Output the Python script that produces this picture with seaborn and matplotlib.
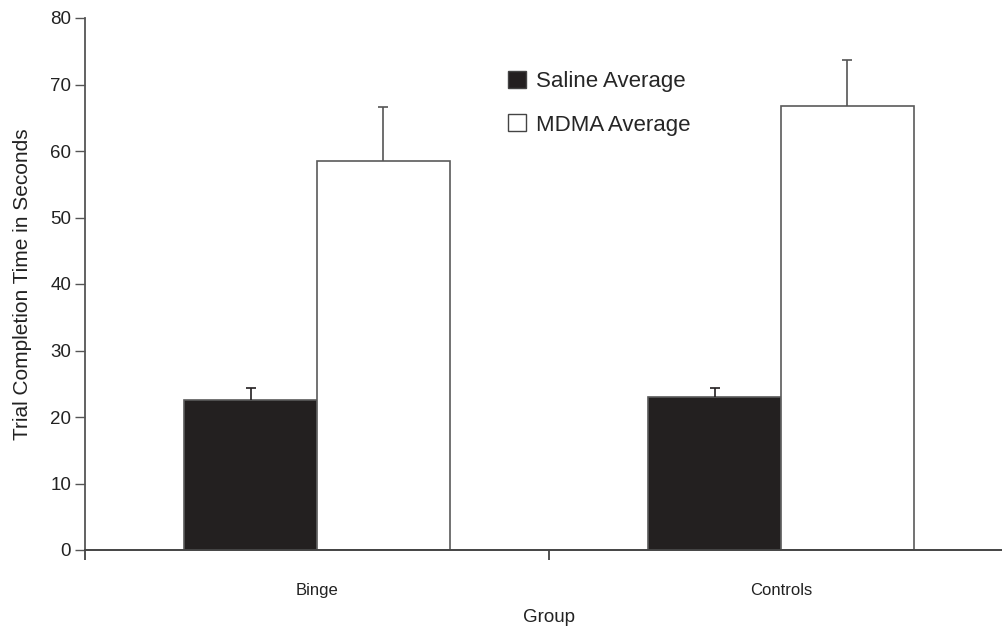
import matplotlib
matplotlib.use("Agg")
import matplotlib.pyplot as plt
import seaborn as sns
import pandas as pd
from matplotlib.patches import Patch

groups = ["Binge", "Controls"]
treatments = ["Saline Average", "MDMA Average"]
saline_means = [22.5, 23.0]
saline_err = [1.9, 1.3]
mdma_means = [58.5, 66.8]
mdma_err = [8.1, 6.9]
yticks = [0, 10, 20, 30, 40, 50, 60, 70, 80]

df = pd.DataFrame({
    "Group": groups * 2,
    "Treatment": [treatments[0]] * 2 + [treatments[1]] * 2,
    "Value": saline_means + mdma_means,
    "Err": saline_err + mdma_err,
})

sns.set_style("white")
plt.rcParams["font.family"] = ["Liberation Sans", "DejaVu Sans"]

W, H = 1003, 629
fig = plt.figure(figsize=(W / 100, H / 100), dpi=100)
x0, x1 = 85, 1013
y0, y1 = 550, 18
ax = fig.add_axes([x0 / W, (H - y0) / H, (x1 - x0) / W, (y0 - y1) / H])

palette = {treatments[0]: "#231f20", treatments[1]: "#ffffff"}
sns.barplot(data=df, x="Group", y="Value", hue="Treatment", palette=palette,
            order=groups, hue_order=treatments, width=0.573, gap=0,
            edgecolor="#5a5a5a", linewidth=1.2, errorbar=None, ax=ax,
            legend=False)

# one-sided (upper) error bars placed on bar centers
for patch in list(ax.patches):
    h = patch.get_height()
    cx = patch.get_x() + patch.get_width() / 2
    row = df[(df["Value"] - h).abs() < 1e-9].iloc[0]
    col = "#231f20" if row["Treatment"] == treatments[0] else "#555555"
    _, caps, _ = ax.errorbar([cx], [h], yerr=[[0], [row["Err"]]], fmt="none",
                             ecolor=col, elinewidth=1.2, capsize=3.5,
                             capthick=1.2, zorder=3)
    caps[0].set_visible(False)

ax.set_xlim(-0.5, 1.5)
ax.set_ylim(0, 80)
ax.set_yticks(yticks)
ax.set_yticklabels([str(v) for v in yticks], fontsize=13.5, color="#222222")

# category ticks at boundaries, labels at centers
ax.set_xticks([-0.5, 0.5, 1.5])
ax.set_xticklabels([])
ax.set_xticks([0, 1], minor=True)
ax.set_xticklabels(groups, minor=True, fontsize=12, color="#222222")
ax.tick_params(axis="x", which="minor", length=0, pad=24, bottom=False)
ax.tick_params(axis="x", which="major", length=7, width=1.2, color="#333333",
               direction="out", bottom=True)
ax.tick_params(axis="y", length=7, width=1.0, color="#555555", direction="out",
               pad=3, left=True)

for side in ["top", "right"]:
    ax.spines[side].set_visible(False)
ax.spines["left"].set_color("#555555")
ax.spines["left"].set_linewidth(1.3)
ax.spines["bottom"].set_color("#444444")
ax.spines["bottom"].set_linewidth(1.4)

ax.set_xlabel("Group", fontsize=13.5, color="#222222", labelpad=8)
ax.set_ylabel("Trial Completion Time in Seconds", fontsize=15,
              color="#222222", labelpad=13)

handles = [Patch(facecolor=palette[t], edgecolor="#444444", linewidth=1.0,
                 label=t) for t in treatments]
ax.legend(handles=handles, loc="upper left",
          bbox_to_anchor=((499 - x0) / (x1 - x0), (y0 - 62) / (y0 - y1)),
          frameon=False, fontsize=16, handlelength=0.8, handleheight=0.8,
          handletextpad=0.45, labelspacing=1.0, borderaxespad=0)

fig.savefig("out.png", dpi=100)
